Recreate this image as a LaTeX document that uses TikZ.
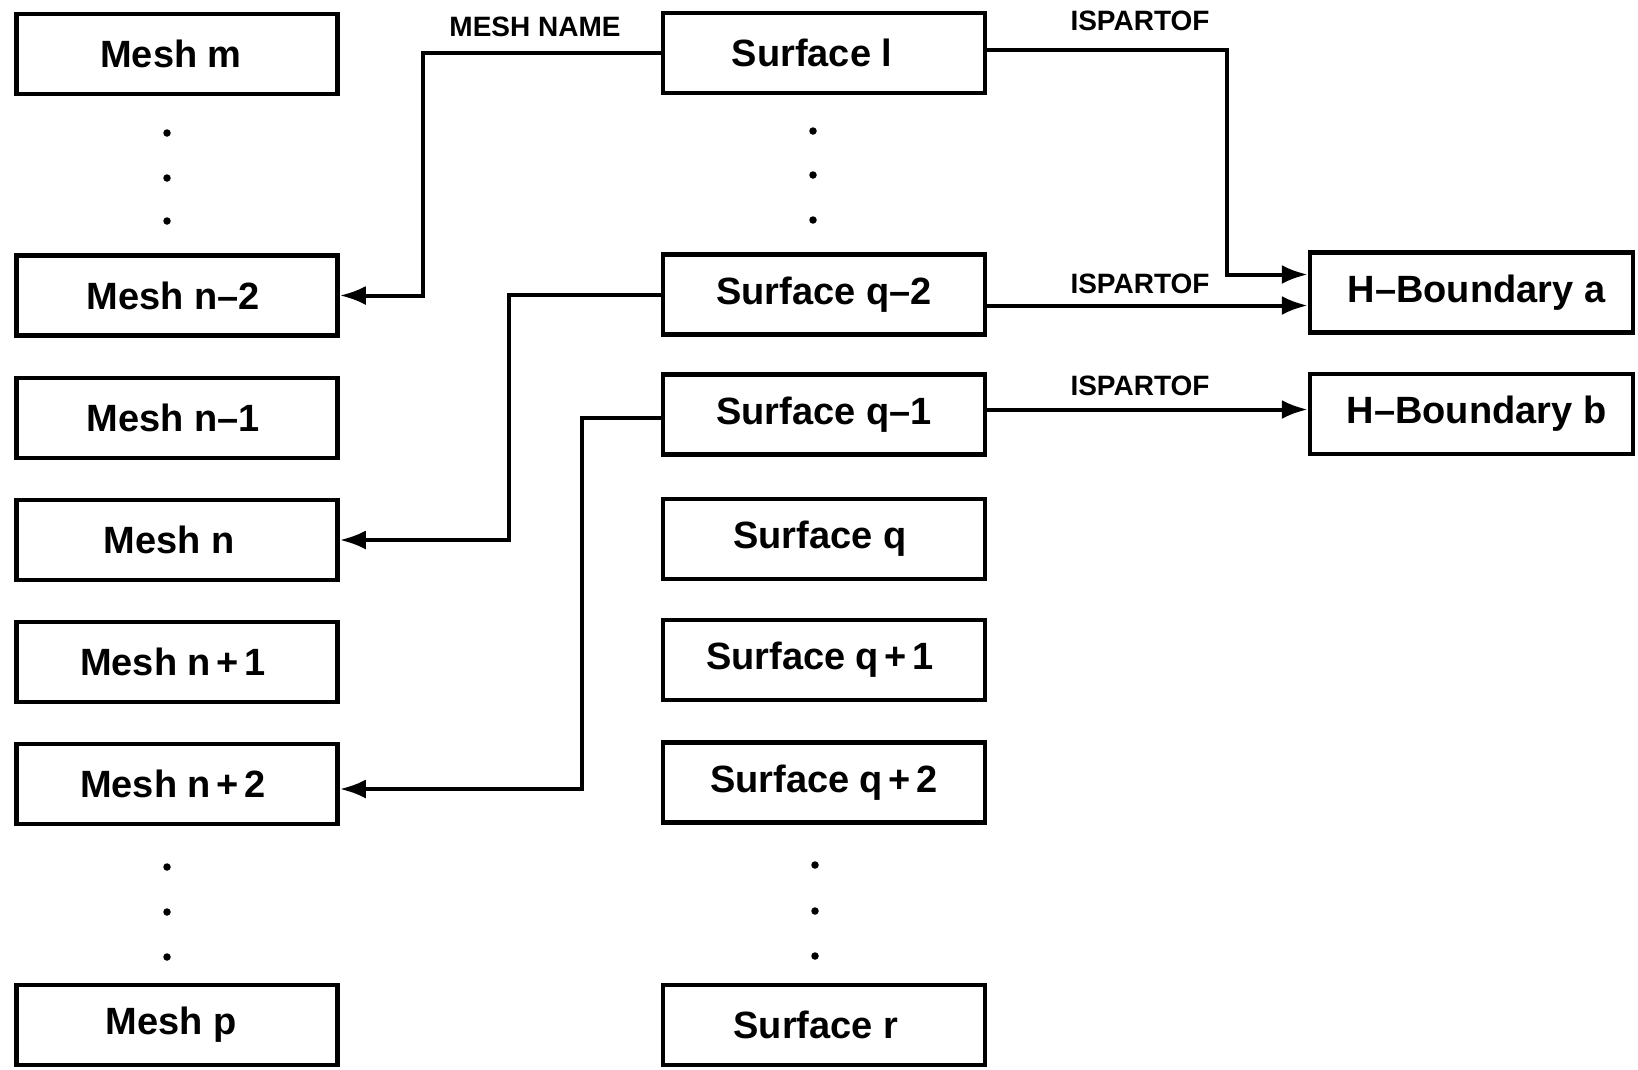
\documentclass[tikz,border=0pt]{standalone}
\usepackage{fontspec}
\setmainfont{Liberation Sans}
\usetikzlibrary{arrows.meta}
\begin{document}
\begin{tikzpicture}[x=1pt,y=-1pt,
  box/.style={draw,line width=4.5pt,rectangle,minimum height=80pt,inner sep=0pt,
    font=\bfseries\fontsize{38}{46}\selectfont},
  meshbox/.style={box,minimum width=321pt},
  surfbox/.style={box,minimum width=322pt},
  hbbox/.style={box,minimum width=323pt},
  conn/.style={line width=4pt},
  arr/.style={conn,-{Latex[length=26pt,width=19pt]}},
  lbl/.style={font=\bfseries\fontsize{28}{34}\selectfont,inner sep=0pt},
  dotmark/.style={fill,circle,inner sep=0pt,minimum size=7.5pt}
]
\useasboundingbox (0,0) rectangle (1638,1069);
% Mesh column
\node[meshbox] (mm)  at (177,54)   {Mesh m\kern12pt};
\node[meshbox] (mn2) at (177,295.5){Mesh n–2\kern8pt};
\node[meshbox] (mn1) at (177,418)  {Mesh n–1\kern8pt};
\node[meshbox] (mn)  at (177,540)  {Mesh n\kern16pt};
\node[meshbox] (mp1) at (177,662)  {Mesh n\kern0.15em+\kern0.15em1\kern8pt};
\node[meshbox] (mp2) at (177,784)  {Mesh n\kern0.15em+\kern0.15em2\kern8pt};
\node[meshbox] (mp)  at (177,1025) {Mesh p\kern12pt};
\foreach \y in {133,178,221,867,912,957} \node[dotmark] (md\y) at (167,\y) {};
% Surface column
\node[surfbox] (sl)  at (824,53)    {Surface l\kern24pt};
\node[surfbox] (sq2) at (824,294.5) {Surface q–2};
\node[surfbox] (sq1) at (824,414.5) {Surface q–1};
\node[surfbox] (sq)  at (824,539)   {Surface q\kern8pt};
\node[surfbox] (sp1) at (824,660)   {Surface q\kern0.15em+\kern0.15em1\kern8pt};
\node[surfbox] (sp2) at (824,782.5) {Surface q\kern0.15em+\kern0.15em2};
\node[surfbox] (sr)  at (824,1025)  {Surface r\kern16pt};
\foreach \y in {131,175,220} \node[dotmark] (sd\y) at (813,\y) {};
\foreach \y in {865,911,956} \node[dotmark] (se\y) at (815,\y) {};
% H-Boundaries
\node[hbbox] (ha) at (1471.5,292.5) {\kern10pt H–Boundary a};
\node[hbbox] (hb) at (1471.5,414)   {\kern10pt H–Boundary b};
% bend coordinates
\coordinate (cA) at (423,175);
\coordinate (cB) at (509,420);
\coordinate (cC) at (582,600);
\coordinate (cD) at (1227,160);
% connectors to meshes
\draw[arr] (sl.west) -| (cA) |- (mn2.east);
\draw[arr] (sq2.west) -| (cB) |- (mn.east);
\draw[arr] ([yshift=-3pt]sq1.west) -| (cC) |- ([yshift=-5pt]mp2.east);
% connectors to H-boundaries
\draw[arr] ([yshift=3pt]sl.east) -| (cD) |- ([yshift=18pt]ha.west);
\draw[arr] ([yshift=-11pt]sq2.east) -- ([yshift=-11pt]sq2.east -| ha.west);
\draw[arr] ([yshift=5pt]sq1.east) -- ([yshift=5pt]sq1.east -| hb.west);
% labels
\node[lbl] (lmn) at (535,27)  {MESH NAME};
\node[lbl] (li1) at (1140,21) {ISPARTOF};
\node[lbl] (li2) at (1140,284){ISPARTOF};
\node[lbl] (li3) at (1140,386){ISPARTOF};
\end{tikzpicture}
\end{document}
